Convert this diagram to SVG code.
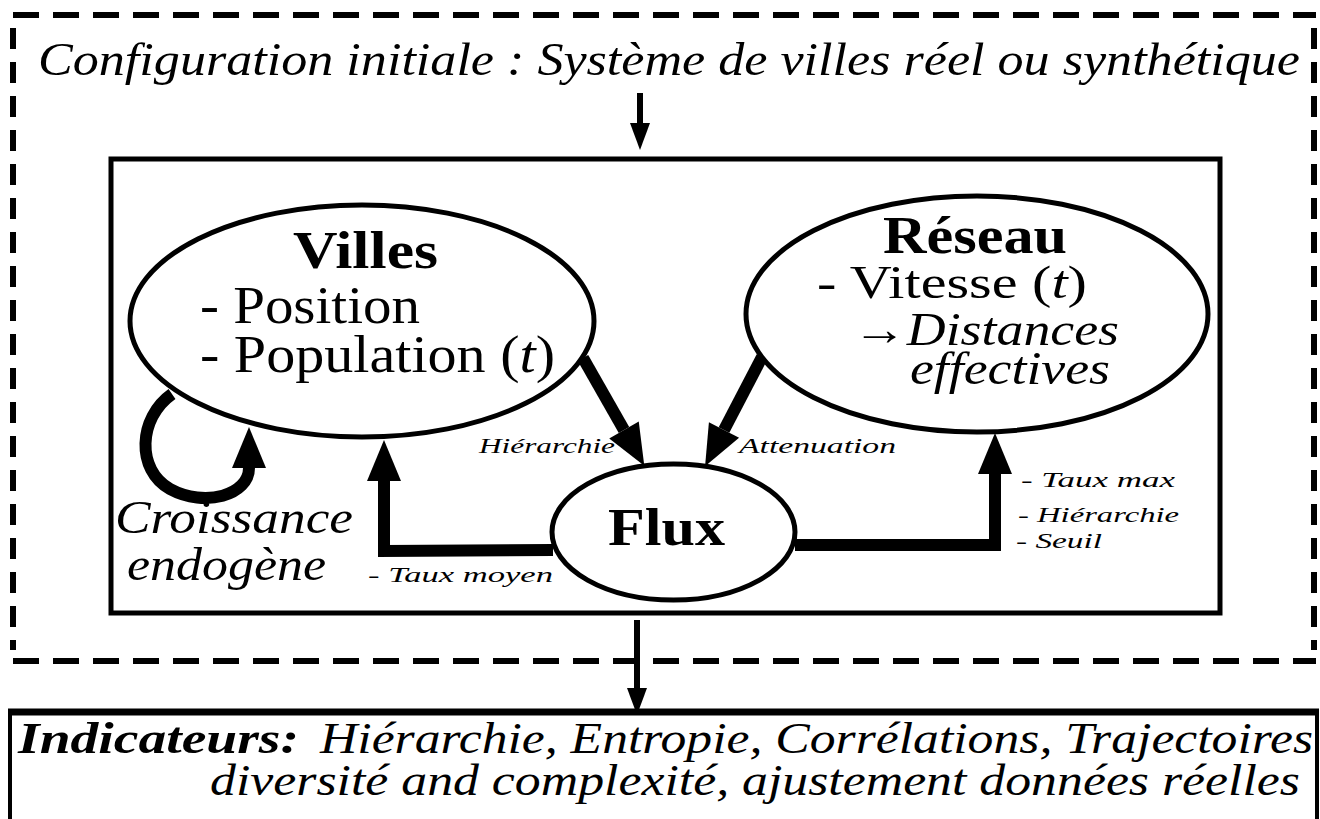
<svg xmlns="http://www.w3.org/2000/svg" width="1320" height="819" viewBox="0 0 1320 819">
<style>
text{font-family:"Liberation Serif","DejaVu Serif",serif;fill:#000}
.it{font-style:italic}
.bd{font-weight:bold}
.node{fill:#fff;stroke:#000;stroke-width:5}
.thick{fill:none;stroke:#000;stroke-width:12;stroke-linejoin:miter}
.thin{fill:none;stroke:#000;stroke-width:6}
.dashH{stroke:#000;stroke-width:6;stroke-dasharray:26 14}
.dashV{stroke:#000;stroke-width:6;stroke-dasharray:21 13}
.big{font-size:52px}
.mid{font-size:46px}
.lab{font-size:21px;font-style:italic}
</style>
<defs>
<marker id="ahBig" markerUnits="userSpaceOnUse" markerWidth="42" markerHeight="34" refX="0" refY="17" orient="auto" overflow="visible">
<path d="M0,0 L41,17 L0,34 z" fill="#000"/>
</marker>
<marker id="ahSmall" markerUnits="userSpaceOnUse" markerWidth="28" markerHeight="22" refX="0" refY="11" orient="auto" overflow="visible">
<path d="M0,1 L27,11 L0,21 z" fill="#000"/>
</marker>
</defs>
<rect width="1320" height="819" fill="#fff"/>

<g id="frame">
<line class="dashH" x1="13" y1="15" x2="1316" y2="15"/>
<line class="dashH" x1="13" y1="661" x2="1316" y2="661"/>
<line class="dashV" x1="13" y1="28" x2="13" y2="650"/>
<line class="dashV" x1="1314" y1="28" x2="1314" y2="650"/>
<text class="it" x="38" y="75" font-size="46" textLength="1262" lengthAdjust="spacingAndGlyphs">Configuration initiale : Système de villes réel ou synthétique</text>
</g>

<g id="model">
<rect x="111" y="159" width="1109" height="454" fill="none" stroke="#000" stroke-width="5"/>
</g>

<g id="connectors">
<line class="thin" x1="640" y1="93" x2="640" y2="123" marker-end="url(#ahSmall)"/>
<line class="thin" x1="637" y1="620" x2="637" y2="688" marker-end="url(#ahSmall)"/>
<line class="thick" x1="583" y1="358" x2="624" y2="430" marker-end="url(#ahBig)"/>
<line class="thick" x1="762" y1="357" x2="724" y2="430" marker-end="url(#ahBig)"/>
<path class="thick" d="M553,550 L384,551 L384,481" marker-end="url(#ahBig)"/>
<path class="thick" d="M795,545 L995,545 L995,474" marker-end="url(#ahBig)"/>
<path class="thick" d="M172,394 C138,418 136,470 170,489 C205,508 249,495 249,468" marker-end="url(#ahBig)"/>
<text class="lab" x="479" y="453" textLength="136" lengthAdjust="spacingAndGlyphs">Hiérarchie</text>
<text class="lab" x="739" y="453" textLength="157" lengthAdjust="spacingAndGlyphs">Attenuation</text>
<text class="lab" x="368" y="582" textLength="185" lengthAdjust="spacingAndGlyphs">-  Taux moyen</text>
<text class="lab" x="1021" y="487" textLength="154" lengthAdjust="spacingAndGlyphs">-  Taux max</text>
<text class="lab" x="1018" y="522" textLength="161" lengthAdjust="spacingAndGlyphs">-  Hiérarchie</text>
<text class="lab" x="1016" y="548" textLength="86" lengthAdjust="spacingAndGlyphs">-  Seuil</text>
<text class="it" x="115" y="533" font-size="46" textLength="238" lengthAdjust="spacingAndGlyphs">Croissance</text>
<text class="it" x="127" y="580" font-size="46" textLength="199" lengthAdjust="spacingAndGlyphs">endogène</text>
</g>

<g id="villes">
<ellipse class="node" cx="362" cy="321" rx="232" ry="116"/>
<text class="big bd" x="293" y="268" textLength="145" lengthAdjust="spacingAndGlyphs">Villes</text>
<text class="big" x="200" y="323" textLength="220" lengthAdjust="spacingAndGlyphs">- Position</text>
<text class="big" x="200" y="372" textLength="355" lengthAdjust="spacingAndGlyphs">- Population (<tspan class="it">t</tspan>)</text>
</g>

<g id="reseau">
<ellipse class="node" cx="977" cy="314" rx="231" ry="118"/>
<text class="big bd" x="883" y="253" textLength="184" lengthAdjust="spacingAndGlyphs">Réseau</text>
<text class="mid" x="817" y="298" textLength="270" lengthAdjust="spacingAndGlyphs">- Vitesse (<tspan class="it">t</tspan>)</text>
<text class="mid" x="853" y="345" textLength="266" lengthAdjust="spacingAndGlyphs">→<tspan class="it">Distances</tspan></text>
<text class="mid it" x="910" y="384" textLength="200" lengthAdjust="spacingAndGlyphs">effectives</text>
</g>

<g id="flux">
<ellipse class="node" cx="673.5" cy="532" rx="121.5" ry="68"/>
<text class="big bd" x="608" y="545" textLength="117" lengthAdjust="spacingAndGlyphs">Flux</text>
</g>

<g id="indicateurs">
<path d="M10,830 L10,712 L1317,712 L1317,830" fill="none" stroke="#000" stroke-width="4"/>
<line x1="8" y1="712" x2="1319" y2="712" stroke="#000" stroke-width="7"/>
<text class="it bd" x="18" y="753" font-size="44" textLength="281" lengthAdjust="spacingAndGlyphs">Indicateurs:</text>
<text class="it" x="320" y="753" font-size="44" textLength="993" lengthAdjust="spacingAndGlyphs">Hiérarchie, Entropie, Corrélations, Trajectoires</text>
<text class="it" x="210" y="795" font-size="44" textLength="1090" lengthAdjust="spacingAndGlyphs">diversité and complexité, ajustement données réelles</text>
</g>
</svg>
